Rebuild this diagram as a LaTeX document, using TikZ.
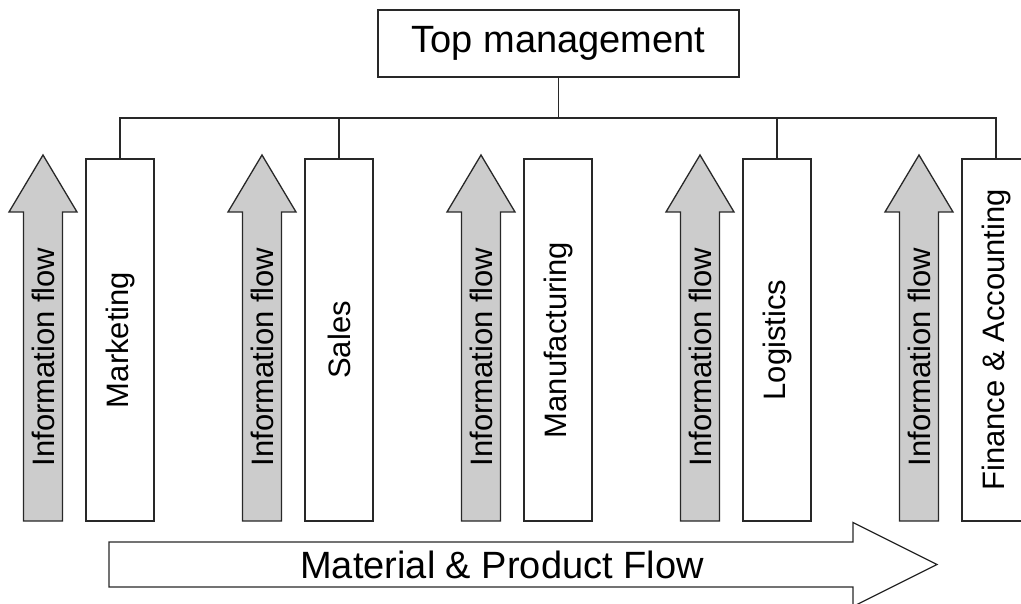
\documentclass[tikz,border=0pt]{standalone}
\usepackage{fontspec}
\setmainfont{Liberation Sans}
\usepackage{tikz}
\definecolor{flowgray}{RGB}{204,204,204}
\definecolor{linegray}{RGB}{40,40,40}
\tikzset{
    dept/.style={draw=linegray, line width=1.3pt, fill=white, minimum width=68pt, minimum height=362pt, inner sep=0pt},
    bigtext/.style={font=\fontsize{38}{40}\selectfont},
    vtext/.style={font=\fontsize{31}{33}\selectfont, rotate=90, inner sep=0pt},
    wire/.style={draw=linegray, line width=1.3pt}
}
\begin{document}
\begin{tikzpicture}[x=1pt, y=-1pt]
    \clip (0,0) rectangle (1021,604);
    \fill[white] (0,0) rectangle (1021,604);

    % Top management
    \node[draw=linegray, line width=1.3pt, minimum width=361pt, minimum height=67pt, bigtext] (top) at (558.5,43.5) {Top management};

    % Departments
    \node[dept] (mkt) at (120,340) {};
    \node[dept] (sal) at (339,340) {};
    \node[dept] (man) at (558,340) {};
    \node[dept] (log) at (777,340) {};
    \node[dept] (fin) at (996,340) {};
    \node[vtext] at (mkt.center) {Marketing};
    \node[vtext] at (sal.center) {Sales};
    \node[vtext] at (man.center) {Manufacturing};
    \node[vtext] at (log.center) {Logistics};
    \node[vtext] at (fin.center) {Finance \& Accounting};

    % Organisation lines
    \coordinate (bus) at (558.5,118);
    \draw[wire] (top.south) -- (bus);
    \draw[wire] (mkt.north) |- (bus) -| (fin.north);
    \draw[wire] (sal.north) -- (sal.north |- bus);
    \draw[wire] (log.north) -- (log.north |- bus);

    % Information flow arrows
    \foreach \i in {0,...,4} {
        \pgfmathsetmacro{\cx}{43+219*\i}
        \draw[draw=linegray, line width=1.3pt, fill=flowgray, line join=miter]
            (\cx,155) -- (\cx+34,212) -- (\cx+19.5,212) -- (\cx+19.5,521)
            -- (\cx-19.5,521) -- (\cx-19.5,212) -- (\cx-34,212) -- cycle;
        \node[vtext] (info\i) at (\cx,357) {Information flow};
    }

    % Material & Product Flow
    \draw[draw=linegray, line width=1.3pt, fill=white]
        (109,542) -- (853,542) -- (853,522.5) -- (937,564.5)
        -- (853,606.5) -- (853,587) -- (109,587) -- cycle;
    \node[bigtext] (material) at (502,564.5) {Material \& Product Flow};
\end{tikzpicture}
\end{document}
